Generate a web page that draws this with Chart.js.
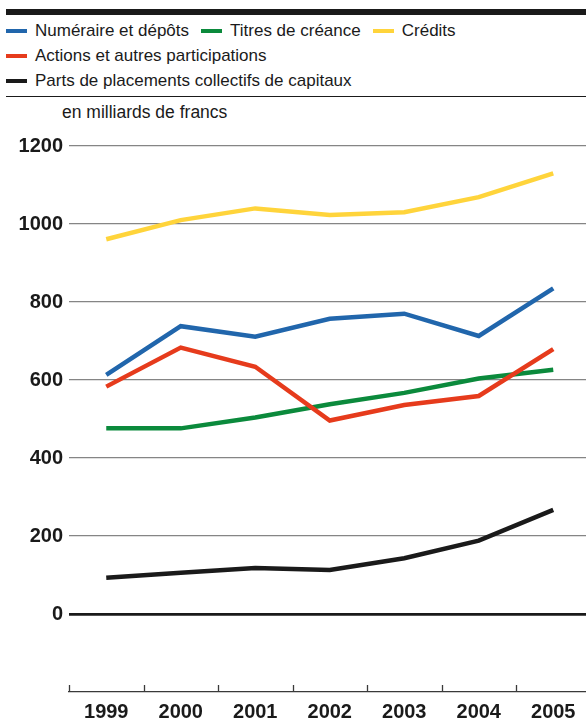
<!DOCTYPE html>
<html>
<head>
<meta charset="utf-8">
<script src="https://cdn.jsdelivr.net/npm/chart.js@4.4.1/dist/chart.umd.min.js"></script>
<style>
    html, body { margin: 0; padding: 0; background: #fff; overflow: hidden; }
    body { width: 586px; height: 718px; position: relative; font-family: 'Liberation Sans', Arial, sans-serif; color: #1a1a1a; }
    #top-bar { position: absolute; left: 6px; right: 0; top: 9px; height: 6px; background: #1a1a1a; }
    #legend { position: absolute; left: 6px; top: 18px; width: 580px; display: flex; flex-wrap: wrap; font-size: 17px; }
    #legend .item { display: flex; align-items: center; height: 25px; margin-right: 12px; white-space: nowrap; }
    #legend .swatch { display: inline-block; width: 21px; height: 4px; margin-right: 8px; }
    #separator { position: absolute; left: 6px; right: 0; top: 96px; height: 1px; background: #1a1a1a; }
    #unit { position: absolute; left: 62px; top: 102px; font-size: 17.5px; line-height: 20px; }
    #chart { position: absolute; left: 0; top: 0; }
</style>
</head>
<body>
<div id="top-bar"></div>
<div id="legend"></div>
<div id="separator"></div>
<div id="unit">en milliards de francs</div>
<canvas id="chart" width="592" height="718"></canvas>
<script>
// Values (billions of francs)
const years = ['1999', '2000', '2001', '2002', '2003', '2004', '2005'];
const numeraire = [613, 738, 711, 757, 770, 713, 835];
const titres = [476, 476, 504, 538, 567, 604, 626];
const credits = [961, 1010, 1040, 1023, 1030, 1069, 1130];
const actions = [583, 683, 634, 496, 536, 559, 679];
const parts = [93, 106, 118, 113, 143, 188, 267];

const yTicks = { min: -200, max: 1200, step: 200 };

const seriesNames = [
    'Numéraire et dépôts',
    'Titres de créance',
    'Crédits',
    'Actions et autres participations',
    'Parts de placements collectifs de capitaux'
];
const seriesColors = ['#2166ac', '#0b8a3c', '#ffd43b', '#e63b1c', '#1a1a1a'];
const seriesValues = [numeraire, titres, credits, actions, parts];
// red is drawn above green where they cross
const seriesOrder = [1, 2, 1, 0, 1];

const tickFont = { family: "'Liberation Sans', Arial, sans-serif", size: 20, weight: 'bold' };

// small upward tick marks on the bottom axis, between the years
const axisTicks = {
    id: 'axisTicks',
    afterDraw(chart) {
        const xs = chart.scales.x;
        const ctx = chart.ctx;
        const bottom = chart.chartArea.bottom;
        ctx.save();
        ctx.strokeStyle = '#3a3a3a';
        ctx.lineWidth = 1.3;
        for (let i = 0; i <= years.length; i++) {
            const x = Math.round(xs.getPixelForValue(i - 0.5)) + 0.5;
            ctx.beginPath();
            ctx.moveTo(x, bottom);
            ctx.lineTo(x, bottom - 7);
            ctx.stroke();
        }
        ctx.restore();
    }
};

const chart = new Chart(document.getElementById('chart'), {
    type: 'line',
    data: {
        labels: years,
        datasets: seriesNames.map((name, i) => ({
            label: name,
            data: seriesValues[i],
            borderColor: seriesColors[i],
            backgroundColor: seriesColors[i],
            borderWidth: 4.5,
            tension: 0,
            pointRadius: 0,
            fill: false,
            order: seriesOrder[i]
        }))
    },
    options: {
        responsive: false,
        animation: false,
        layout: { padding: { top: 146, right: 1.5, bottom: 0, left: 0 } },
        plugins: {
            legend: { display: false },
            tooltip: { enabled: false }
        },
        scales: {
            x: {
                offset: true,
                grid: { display: false },
                border: { display: true, color: '#3a3a3a', width: 1.3 },
                ticks: { color: '#1a1a1a', font: tickFont, padding: 0, maxRotation: 0 },
                afterFit(scale) { scale.height = 26; }
            },
            y: {
                min: yTicks.min,
                max: yTicks.max,
                ticks: {
                    stepSize: yTicks.step,
                    color: '#1a1a1a',
                    font: tickFont,
                    padding: 6,
                    callback: v => (v < 0 ? '' : v)
                },
                grid: {
                    drawTicks: false,
                    color: ctx => ctx.tick.value === 0 ? '#1a1a1a' : (ctx.tick.value < 0 ? 'rgba(0,0,0,0)' : '#858585'),
                    lineWidth: ctx => ctx.tick.value === 0 ? 2.7 : 1.3
                },
                border: { display: false },
                afterFit(scale) { scale.width = 69; }
            }
        }
    },
    plugins: [axisTicks]
});

// HTML legend built from the chart's datasets
const legendEl = document.getElementById('legend');
chart.data.datasets.forEach(ds => {
    const item = document.createElement('div');
    item.className = 'item';
    const sw = document.createElement('span');
    sw.className = 'swatch';
    sw.style.background = ds.borderColor;
    item.appendChild(sw);
    item.appendChild(document.createTextNode(ds.label));
    legendEl.appendChild(item);
});
</script>
</body>
</html>
